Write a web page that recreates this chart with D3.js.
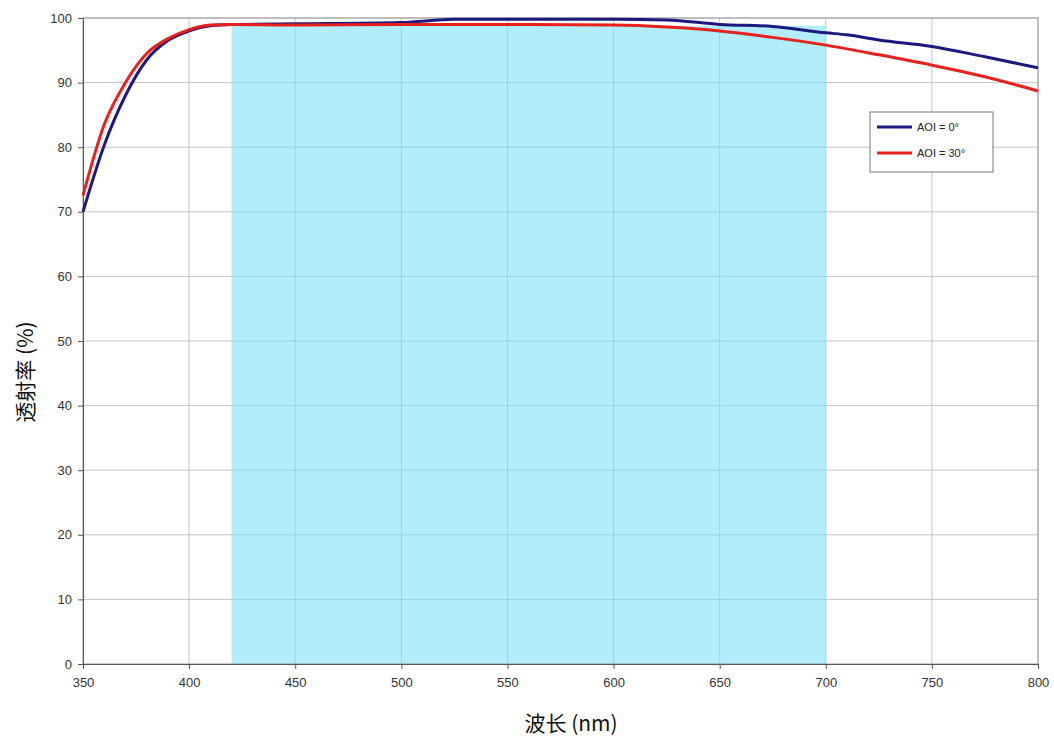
<!DOCTYPE html>
<html><head><meta charset="utf-8">
<script src="https://cdn.jsdelivr.net/npm/d3@7"></script>
<style>body{margin:0;background:#fff;}svg{display:block;}</style>
</head><body>
<svg id="c" width="1054" height="740"></svg>
<script>
const wavelengths0 = [350,360,370,380,390,400,410,420,450,500,525,550,600,625,650,675,700,710,725,750,775,800];
const aoi0 =        [70,80.3,88,93.5,96.5,98,98.8,99,99.1,99.3,99.8,99.8,99.8,99.7,99.0,98.7,97.7,97.4,96.6,95.6,94.0,92.3];
const wavelengths30 = [350,360,370,380,390,400,410,420,450,500,550,600,625,650,675,700,725,750,775,800];
const aoi30 =         [72.5,83.5,90,94.5,96.8,98.2,98.9,99,98.9,99,99,98.9,98.6,98,97,95.8,94.3,92.7,90.9,88.7];
const xTicks = [350,400,450,500,550,600,650,700,750,800];
const yTicks = [0,10,20,30,40,50,60,70,80,90,100];
const band = [420,700];
const bandTop = 98.8;
const seriesNames = ["AOI = 0°","AOI = 30°"];
const seriesColors = ["#1c1a7e","#e8211d"];

const svg = d3.select("#c");
const L=83,R=1038,T=18,B=664;
const x = d3.scaleLinear().domain([350,800]).range([L,R]);
const y = d3.scaleLinear().domain([0,100]).range([B,T]);

// grid (under band)
function grid(g, color, op){
  g.append("g").selectAll("line").data(xTicks.slice(1)).join("line")
    .attr("x1",d=>x(d)).attr("x2",d=>x(d)).attr("y1",T).attr("y2",B)
    .attr("stroke",color).attr("stroke-opacity",op).attr("stroke-width",1);
  g.append("g").selectAll("line").data(yTicks.slice(1)).join("line")
    .attr("x1",L).attr("x2",R).attr("y1",d=>y(d)).attr("y2",d=>y(d))
    .attr("stroke",color).attr("stroke-opacity",op).attr("stroke-width",1);
}
grid(svg.append("g"), "#c4c4c4", 1);

// band
svg.append("rect").attr("x",x(band[0])).attr("width",x(band[1])-x(band[0]))
  .attr("y",y(bandTop)).attr("height",y(0)-y(bandTop))
  .attr("fill","#b2edfb");

// faint grid over band
svg.append("clipPath").attr("id","bandclip").append("rect")
  .attr("x",x(band[0])).attr("width",x(band[1])-x(band[0]))
  .attr("y",y(bandTop)).attr("height",y(0)-y(bandTop));
grid(svg.append("g").attr("clip-path","url(#bandclip)"), "#3a7f95", 0.2);

// frame
svg.append("rect").attr("x",L).attr("y",T).attr("width",R-L).attr("height",B-T)
  .attr("fill","none").attr("stroke","#9a9a9a").attr("stroke-width",1);

// axes
const xAxis = d3.axisBottom(x).tickValues(xTicks).tickSize(5).tickPadding(9).tickSizeOuter(0);
const gx = svg.append("g").attr("transform",`translate(0,${B})`).call(xAxis);
const yAxis = d3.axisLeft(y).tickValues(yTicks).tickSize(5).tickPadding(6).tickSizeOuter(0);
const gy = svg.append("g").attr("transform",`translate(${L},0)`).call(yAxis);
[gx,gy].forEach(g=>{
  g.selectAll("path").attr("stroke","#555");
  g.selectAll("line").attr("stroke","#555");
  g.selectAll("text").attr("font-family","Liberation Sans, Arial, sans-serif").attr("font-size",13).attr("fill","#333");
});

// lines
const line = d3.line().x(d=>x(d[0])).y(d=>y(d[1])).curve(d3.curveMonotoneX);
const d0 = wavelengths0.map((w,i)=>[w,aoi0[i]]);
const d30 = wavelengths30.map((w,i)=>[w,aoi30[i]]);
svg.append("path").datum(d0).attr("d",line).attr("fill","none").attr("stroke",seriesColors[0]).attr("stroke-width",3);
svg.append("path").datum(d30).attr("d",line).attr("fill","none").attr("stroke",seriesColors[1]).attr("stroke-width",3);

// legend
const lg = svg.append("g");
lg.append("rect").attr("x",870).attr("y",112).attr("width",123).attr("height",60)
  .attr("fill","#fff").attr("stroke","#777").attr("stroke-width",1);
seriesNames.forEach((n,i)=>{
  const yy = 127 + i*26;
  lg.append("line").attr("x1",877).attr("x2",912).attr("y1",yy).attr("y2",yy)
    .attr("stroke",seriesColors[i]).attr("stroke-width",3);
  lg.append("text").attr("x",917).attr("y",yy+4).text(n)
    .attr("font-family","Liberation Sans, Arial, sans-serif").attr("font-size",11).attr("fill","#222");
});

// titles
svg.append("text").attr("x",571).attr("y",731).attr("text-anchor","middle")
  .attr("font-family","Noto Sans CJK SC, sans-serif").attr("font-size",21).attr("fill","#111").text("波长 (nm)");
svg.append("text").attr("transform","translate(33,372) rotate(-90)").attr("text-anchor","middle")
  .attr("font-family","Noto Sans CJK SC, sans-serif").attr("font-size",21).attr("fill","#111").text("透射率 (%)");
</script>
</body></html>
